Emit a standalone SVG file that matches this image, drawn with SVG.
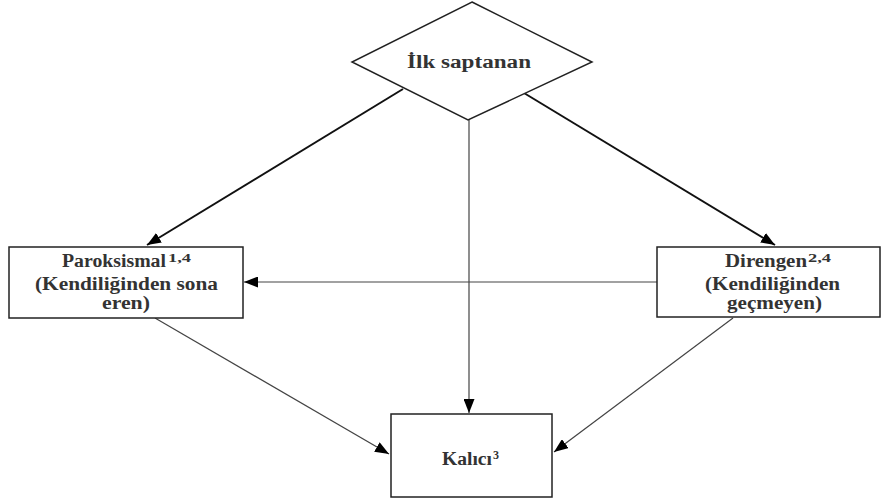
<svg xmlns="http://www.w3.org/2000/svg" width="881" height="501" viewBox="0 0 881 501">
<style>
.box{fill:#fff;stroke:#222;stroke-width:1.5}
.t{font-family:"Liberation Serif","Times New Roman",serif;font-weight:bold;font-size:18px;fill:#333;text-anchor:middle}
.sup{font-size:12px;text-anchor:start}
.thick{stroke:#111;stroke-width:2;fill:none}
.thin{stroke:#444;stroke-width:1.2;fill:none}
</style>
<defs>
<marker id="ah" markerUnits="userSpaceOnUse" markerWidth="14" markerHeight="11" refX="14" refY="5.5" orient="auto">
<path d="M0,0 L14,5.5 L0,11 z" fill="#000"/>
</marker>
</defs>
<rect width="881" height="501" fill="#fff"/>
<g id="connectors">
<line class="thick" x1="403" y1="89" x2="147" y2="245" marker-end="url(#ah)"/>
<line class="thick" x1="524" y1="93" x2="775" y2="245" marker-end="url(#ah)"/>
<line class="thin" x1="469" y1="120" x2="469" y2="413" marker-end="url(#ah)"/>
<line class="thin" x1="657" y1="282" x2="244" y2="282" marker-end="url(#ah)"/>
<line class="thin" x1="155" y1="318" x2="389" y2="454" marker-end="url(#ah)"/>
<line class="thin" x1="733" y1="318" x2="554" y2="452" marker-end="url(#ah)"/>
</g>
<g id="ilk">
<polygon class="box" points="472,2 592,62 468,120 352,62"/>
<text class="t" x="469" y="68" textLength="124" lengthAdjust="spacingAndGlyphs">İlk saptanan</text>
</g>
<g id="paroksismal">
<rect class="box" x="9" y="247" width="234" height="71"/>
<text class="t" x="114" y="267" textLength="104" lengthAdjust="spacingAndGlyphs">Paroksismal</text>
<text class="t sup" x="168" y="262" textLength="23" lengthAdjust="spacingAndGlyphs">1,4</text>
<text class="t" x="126.5" y="290" textLength="183" lengthAdjust="spacingAndGlyphs">(Kendiliğinden sona</text>
<text class="t" x="126" y="309" textLength="48" lengthAdjust="spacingAndGlyphs">eren)</text>
</g>
<g id="direngen">
<rect class="box" x="657" y="247" width="223" height="70"/>
<text class="t" x="766" y="267" textLength="82" lengthAdjust="spacingAndGlyphs">Direngen</text>
<text class="t sup" x="808" y="262" textLength="23" lengthAdjust="spacingAndGlyphs">2,4</text>
<text class="t" x="772.5" y="290" textLength="135" lengthAdjust="spacingAndGlyphs">(Kendiliğinden</text>
<text class="t" x="774.5" y="309" textLength="95" lengthAdjust="spacingAndGlyphs">geçmeyen)</text>
</g>
<g id="kalici">
<rect class="box" x="391" y="414" width="161" height="83"/>
<text class="t" x="467" y="465" textLength="50" lengthAdjust="spacingAndGlyphs">Kalıcı</text>
<text class="t sup" x="493" y="459">3</text>
</g>
</svg>
